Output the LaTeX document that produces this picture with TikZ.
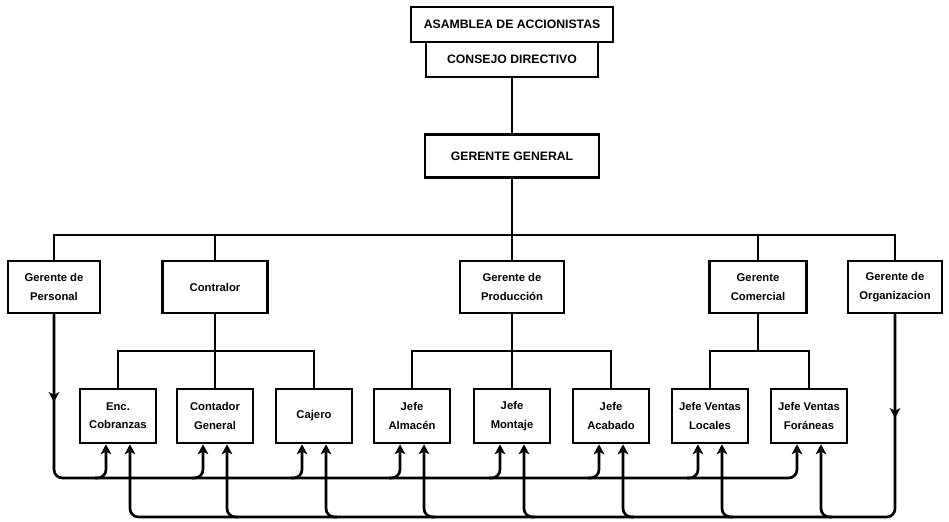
\documentclass[tikz,border=0pt]{standalone}
\usepackage{fontspec}
\setmainfont{Liberation Sans}
\usetikzlibrary{arrows.meta}

\begin{document}
\begin{tikzpicture}%
            [x = 0.025cm, y = -0.025cm,
             wire/.style = {line width = 1.9pt},
             caja/.style = {draw, line width = 1.9pt, inner sep = 0pt, align = center,
                            font = \bfseries\fontsize{8}{13}\selectfont},
             jefe/.style = {caja, minimum width = 1.9cm, minimum height = 1.35cm},
             mayus/.style = {caja, font = \bfseries\fontsize{8.7}{10}\selectfont},
             flecha/.style = {wire, rounded corners = 6pt,
                              -{Stealth[length = 7pt, width = 7.5pt, inset = 1.8pt]}}]
            \useasboundingbox (0,0) rectangle (949,521);

            \node [mayus, minimum width = 5.05cm, minimum height = 0.875cm] (asam) at (512,24.5) {ASAMBLEA DE ACCIONISTAS};
            \node [mayus, minimum width = 4.3cm, minimum height = 0.875cm] (consejo) at (512,59.5) {CONSEJO DIRECTIVO};
            \node [mayus, minimum width = 4.35cm, minimum height = 1.075cm] (gergen) at (512,156) {GERENTE GENERAL};

            \node [caja, minimum width = 2.3cm, minimum height = 1.3cm] (gper) at (54,287) {Gerente de\\Personal};
            \node [caja, minimum width = 2.625cm, minimum height = 1.3cm] (gcontr) at (215,287) {Contralor};
            \node [caja, minimum width = 2.6cm, minimum height = 1.3cm] (gprod) at (512,287) {Gerente de\\Producción};
            \node [caja, minimum width = 2.425cm, minimum height = 1.3cm] (gcom) at (758,287) {Gerente\\Comercial};
            \node [caja, minimum width = 2.35cm, minimum height = 1.3cm] (gorg) at (895,287) {Gerente de\\Organizacion};

            \node [jefe] (enc) at (118,416) {Enc.\\Cobranzas};
            \node [jefe] (contad) at (215,416) {Contador\\General};
            \node [jefe] (cajero) at (314,416) {Cajero};
            \node [jefe] (jalm) at (412,416) {Jefe\\Almacén};
            \node [jefe] (jmon) at (512,416) {Jefe\\Montaje};
            \node [jefe] (jaca) at (611,416) {Jefe\\Acabado};
            \node [jefe] (jloc) at (710,416) {Jefe Ventas\\Locales};
            \node [jefe] (jfor) at (809,416) {Jefe Ventas\\Foráneas};

            \coordinate (t) at (0,235);
            \coordinate (br) at (0,351);
            \coordinate (b1) at (0,478);
            \coordinate (b2) at (0,517);
            \coordinate (pm) at (0,402);
            \coordinate (om) at (0,418);

            \draw [wire] (consejo) -- (gergen);
            \draw [wire] (gergen) -- (gprod);
            \draw [wire] (gper.north) |- (t -| gorg.north) -- (gorg.north);
            \draw [wire] (gcontr.north) -- (gcontr.north |- t);
            \draw [wire] (gcom.north) -- (gcom.north |- t);

            \draw [wire] (enc.north) |- (cajero.north |- br) -- (cajero.north);
            \draw [wire] (gcontr) -- (contad);
            \draw [wire] (jalm.north) |- (jaca.north |- br) -- (jaca.north);
            \draw [wire] (gprod) -- (jmon);
            \draw [wire] (jloc.north) |- (jfor.north |- br) -- (jfor.north);
            \draw [wire] (gcom.south) -- (gcom.south |- br);

            \foreach \n in {enc,contad,cajero,jalm,jmon,jaca,jloc,jfor}{
                \path (\n.south) ++(-12,0) coordinate (\n-l) ++(24,0) coordinate (\n-r);
                \path (\n-l |- b1) ++(-11,0) coordinate (\n-a);
                \path (\n-r |- b2) ++(11,0) coordinate (\n-b);
                \draw [flecha] (\n-a) -| (\n-l);
                \draw [flecha] (\n-b) -| (\n-r);
            }

            \draw [wire, rounded corners = 6pt] (gper.south) |- (jfor-a);
            \draw [wire, rounded corners = 6pt] (gorg.south) |- (enc-b);
            \draw [flecha] (gper.south) -- (gper.south |- pm);
            \draw [flecha] (gorg.south) -- (gorg.south |- om);
        \end{tikzpicture}
\end{document}
